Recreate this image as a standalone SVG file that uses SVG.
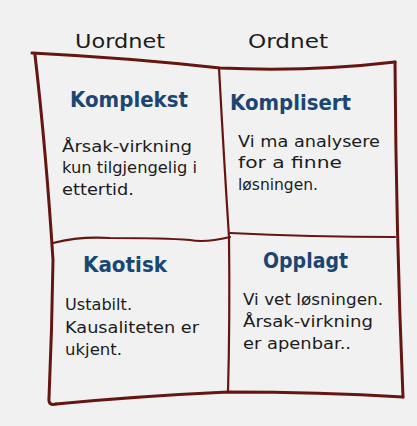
<svg xmlns="http://www.w3.org/2000/svg" width="417" height="426" viewBox="0 0 417 426">
<style>
.bg{fill:#f1f1f1}
.frame{fill:none;stroke:#651610;stroke-width:3;stroke-linecap:round;stroke-linejoin:round}
.inner{fill:none;stroke:#651610;stroke-width:2.2;stroke-linecap:round;stroke-linejoin:round}
.head{font-family:"DejaVu Sans","Liberation Sans",sans-serif;font-size:20px;fill:#1c1c1c}
.title{font-family:"DejaVu Sans","Liberation Sans",sans-serif;font-size:21px;font-weight:bold;fill:#1b4672}
.body{font-family:"DejaVu Sans","Liberation Sans",sans-serif;font-size:15px;fill:#1c1c1c}
</style>
<rect class="bg" x="0" y="0" width="417" height="426"/>
<g id="headers">
<text class="head" x="75" y="48" textLength="90" lengthAdjust="spacingAndGlyphs">Uordnet</text>
<text class="head" x="248" y="48" textLength="80" lengthAdjust="spacingAndGlyphs">Ordnet</text>
</g>
<g id="grid">
<path class="frame" d="M32,53 Q130,58 220,68 Q310,72 395,62"/>
<path class="frame" d="M35,55 Q46,150 53,260 Q52,330 49,398 Q48,406 56,404"/>
<path class="frame" d="M56,404 Q140,396 228,392 Q320,392 403,397"/>
<path class="frame" d="M395,62 Q396,230 403,397"/>
<path class="inner" d="M219,68 Q224,160 229,237 Q230,320 228,392"/>
<path class="inner" d="M53,243 Q80,236 110,238 Q165,238 190,240 Q205,243 230,237"/>
<path class="inner" d="M230,233 Q310,237 395,237"/>
</g>
<g id="komplekst">
<text class="title" x="70" y="107" textLength="118" lengthAdjust="spacingAndGlyphs">Komplekst</text>
<text class="body" x="62" y="152" textLength="130" lengthAdjust="spacingAndGlyphs">Årsak-virkning</text>
<text class="body" x="62" y="173" textLength="135" lengthAdjust="spacingAndGlyphs">kun tilgjengelig i</text>
<text class="body" x="62" y="195" textLength="72" lengthAdjust="spacingAndGlyphs">ettertid.</text>
</g>
<g id="komplisert">
<text class="title" x="230" y="110" textLength="121" lengthAdjust="spacingAndGlyphs">Komplisert</text>
<text class="body" x="238" y="147" textLength="142" lengthAdjust="spacingAndGlyphs">Vi ma analysere</text>
<text class="body" x="238" y="168" textLength="104" lengthAdjust="spacingAndGlyphs">for a finne</text>
<text class="body" x="238" y="190" style="font-size:16.5px" textLength="80" lengthAdjust="spacingAndGlyphs">løsningen.</text>
</g>
<g id="kaotisk">
<text class="title" x="83" y="272" textLength="84" lengthAdjust="spacingAndGlyphs">Kaotisk</text>
<text class="body" x="65" y="310" textLength="67" lengthAdjust="spacingAndGlyphs">Ustabilt.</text>
<text class="body" x="65" y="333" textLength="134" lengthAdjust="spacingAndGlyphs">Kausaliteten er</text>
<text class="body" x="65" y="355" textLength="57" lengthAdjust="spacingAndGlyphs">ukjent.</text>
</g>
<g id="opplagt">
<text class="title" x="263" y="268" textLength="85" lengthAdjust="spacingAndGlyphs">Opplagt</text>
<text class="body" x="243" y="305" textLength="140" lengthAdjust="spacingAndGlyphs">Vi vet løsningen.</text>
<text class="body" x="243" y="327" textLength="130" lengthAdjust="spacingAndGlyphs">Årsak-virkning</text>
<text class="body" x="243" y="349" textLength="108" lengthAdjust="spacingAndGlyphs">er apenbar..</text>
</g>
</svg>
